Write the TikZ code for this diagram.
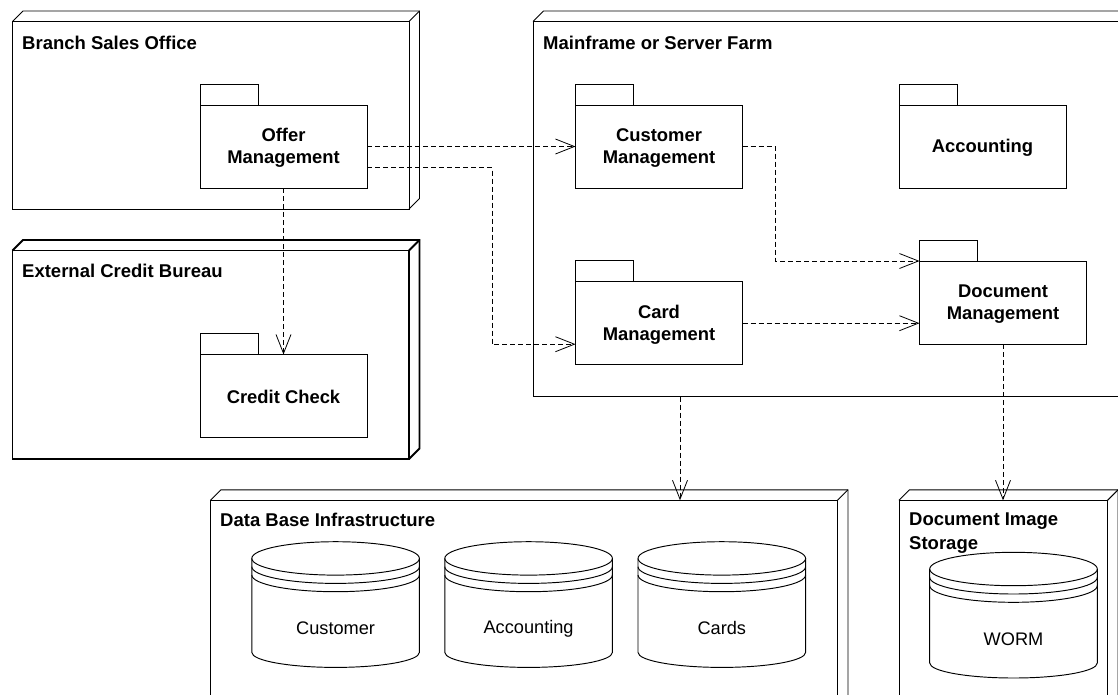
\documentclass[tikz,border=0pt]{standalone}
\usepackage{fontspec}
\setmainfont{Liberation Sans}
\usetikzlibrary{arrows.meta}
\tikzset{
  line/.style={line width=0.95pt,black},
  front/.style={line,draw,rectangle,inner sep=0pt,outer sep=0pt,anchor=north west},
  pkgbody/.style={line,draw,fill=white,rectangle,inner sep=0pt,outer sep=0pt,anchor=north west,
     minimum width=167pt,minimum height=83pt},
  pkgtext/.style={inner sep=0pt,align=center,font=\fontsize{18.4pt}{22.3pt}\selectfont\bfseries},
  title/.style={anchor=base west,inner sep=0pt,font=\fontsize{18.5pt}{23.3pt}\selectfont\bfseries,align=left},
  dbtext/.style={inner sep=0pt,font=\fontsize{18.2pt}{20pt}\selectfont},
  dep/.style={line,dashed,dash pattern=on 5pt off 3pt,-{Straight Barb[length=19pt,width=15pt,line width=0.8pt]}}
}
% #1 name, #2 x, #3 y(front top), #4 width, #5 height, #6 extra style
\newcommand{\depnode}[6]{%
  \node[front,minimum width=#4 pt,minimum height=#5 pt,#6] (#1) at (#2,#3) {};
  \draw[line,#6] (#1.north west) -- ++(10.5,-10.5) -- ++(#4,0) -- ++(0,#5) -- (#1.south east);
  \draw[line,#6] (#1.north east) -- ++(10.5,-10.5);
}
% #1 name, #2 x, #3 y(body top), #4 text
\newcommand{\pkgnode}[4]{%
  \node[pkgbody] (#1) at (#2,#3) {};
  \node[pkgtext] (#1T) at ([yshift=-1.3pt]#1.center) {#4};
  \draw[line] (#1.north west) -- ++(0,-21) -- ++(58,0) -- ++(0,21);
}
% #1 name, #2 left, #3 ellipse centre y, #4 text, #5 text y
\newcommand{\dbcyl}[5]{%
  \begin{scope}[shift={(#2,#3)}]
    \draw[line] (83.8,0) ellipse[x radius=83.8,y radius=16.7];
    \draw[line] (0,0) -- (0,94) arc[start angle=180,end angle=0,x radius=83.8,y radius=15] -- (167.6,0);
    \draw[line] (0,8.3) arc[start angle=180,end angle=0,x radius=83.8,y radius=16.7];
    \draw[line] (0,16.6) arc[start angle=180,end angle=0,x radius=83.8,y radius=16.7];
    \node[dbtext] (#1) at (83.8,#5) {#4};
  \end{scope}
}
\begin{document}
\begin{tikzpicture}[x=1pt,y=-1pt]
\useasboundingbox (0,0) rectangle (1118,694);
\clip (0,0) rectangle (1118,694);

\depnode{branch}{12.5}{21.5}{396.5}{187.5}{}
\node[title] (branchT) at (22,49) {Branch Sales Office};
\depnode{bureau}{12.5}{250.5}{396.5}{208.5}{line width=1.9pt}
\node[title] (bureauT) at (22,277.5) {External Credit Bureau};
\depnode{farm}{533}{21.5}{596}{375}{}
\node[title] (farmT) at (543,49) {Mainframe or Server Farm};
\depnode{dbinf}{210.5}{500.3}{627}{210}{}
\node[title] (dbinfT) at (220,526) {Data Base Infrastructure};
\depnode{store}{899}{500.3}{208.5}{210}{}
\node[title] (storeT) at (909,549) {Document Image\\Storage};

\pkgnode{offer}{200}{105}{Offer\\Management}
\pkgnode{credit}{200}{354.5}{Credit Check}
\pkgnode{cust}{575.5}{105}{Customer\\Management}
\pkgnode{acct}{899}{105}{Accounting}
\pkgnode{card}{575.5}{281.7}{Card\\Management}
\pkgnode{docm}{919.5}{261}{Document\\Management}

\dbcyl{dbA}{251.8}{558.4}{Customer}{70}
\dbcyl{dbB}{444.8}{558.4}{Accounting}{70}
\dbcyl{dbC}{638}{558.4}{Cards}{70}
\dbcyl{dbD}{929.7}{569}{WORM}{70}

\draw[dep] (offer.east) -- (cust.west);
\draw[dep] ([yshift=-21pt]offer.east) -| ++(125,0) |- ([yshift=-21pt]card.west);
\draw[dep] (offer.south) -- (credit.north);
\draw[dep] (cust.east) -- ++(33,0) |- (docm.north west);
\draw[dep] (card.east) -- (card.east -| docm.west);
\draw[dep] (farm.south -| 680,0) -- (680,0 |- dbinf.north) ;
\draw[dep] (docm.south) -- (docm.south |- store.north);
\end{tikzpicture}
\end{document}
